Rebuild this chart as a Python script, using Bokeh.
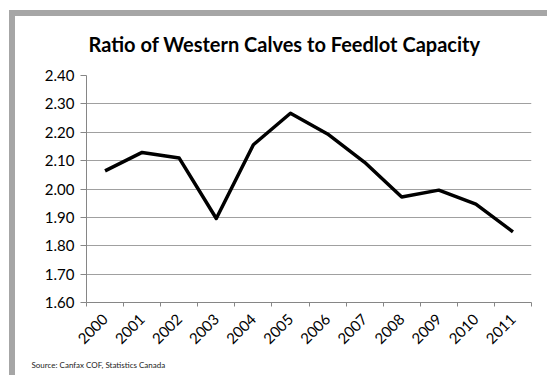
import math
from bokeh.plotting import figure
from bokeh.models import (ColumnDataSource, FixedTicker, Title, Range1d,
                          NumeralTickFormatter, InlineStyleSheet)
from bokeh.embed import file_html
from bokeh.resources import INLINE

years = ["2000", "2001", "2002", "2003", "2004", "2005",
         "2006", "2007", "2008", "2009", "2010", "2011"]
ratio = [2.064, 2.129, 2.109, 1.896, 2.156, 2.267,
         2.194, 2.094, 1.972, 1.996, 1.947, 1.849]
y_ticks = [1.60, 1.70, 1.80, 1.90, 2.00, 2.10, 2.20, 2.30, 2.40]
title_text = "Ratio of Western Calves to Feedlot Capacity"
source_text = "Source: Canfax COF, Statistics Canada"

FONT = "Lato"
W, H = 547, 375
FRAME_LEFT, FRAME_BOTTOM = 86, 302

xpos = [i + 0.5 for i in range(len(years))]
src = ColumnDataSource(dict(x=xpos, y=ratio))

p = figure(width=W, height=H, output_backend="svg", toolbar_location=None,
           x_range=Range1d(0, len(years)), y_range=Range1d(y_ticks[0], y_ticks[-1]),
           min_border_left=FRAME_LEFT, min_border_right=16, min_border_top=75,
           min_border_bottom=H - FRAME_BOTTOM)
p.outline_line_color = None
p.background_fill_color = "white"
p.border_fill_color = None
p.stylesheets = [InlineStyleSheet(css=""":host {
  background:
    linear-gradient(#a6a6a6, #a6a6a6) 9px 10px / 6px 400px no-repeat,
    linear-gradient(#a6a6a6, #a6a6a6) 9px 10px / 600px 6px no-repeat,
    white;
}""")]

p.line("x", "y", source=src, line_color="black", line_width=3.5,
       line_join="round")

# title
p.title.text = title_text
p.title.align = "left"
p.title.offset = 2
p.title.standoff = 40
p.title.text_font = FONT
p.title.text_font_style = "bold"
p.title.text_font_size = "20px"
p.title.text_color = "black"

# source note
p.add_layout(Title(text=source_text, align="left", offset=31 - FRAME_LEFT,
                   standoff=12, text_font=FONT, text_font_style="normal",
                   text_font_size="8px", text_color="#222222"), "below")

# y axis
p.yaxis.ticker = FixedTicker(ticks=y_ticks)
p.yaxis.formatter = NumeralTickFormatter(format="0.00")
p.yaxis.major_label_text_font = FONT
p.yaxis.major_label_text_font_size = "15px"
p.yaxis.major_label_text_color = "black"
p.yaxis.axis_line_color = "#868686"
p.yaxis.major_tick_line_color = "#868686"
p.yaxis.major_tick_out = 6
p.yaxis.major_tick_in = 0
p.yaxis.minor_tick_line_color = None
p.yaxis.major_label_standoff = 6

# x axis
p.xaxis.ticker = FixedTicker(ticks=xpos, minor_ticks=list(range(len(years) + 1)))
p.xaxis.major_label_overrides = {x: y for x, y in zip(xpos, years)}
p.xaxis.major_label_orientation = math.pi / 4
p.xaxis.major_label_text_font = FONT
p.xaxis.major_label_text_font_size = "15px"
p.xaxis.major_label_text_color = "black"
p.xaxis.axis_line_color = "#868686"
p.xaxis.major_tick_line_color = None
p.xaxis.minor_tick_line_color = "#868686"
p.xaxis.minor_tick_out = 4
p.xaxis.minor_tick_in = 0
p.xaxis.major_label_standoff = 8

p.xgrid.grid_line_color = None
p.ygrid.ticker = FixedTicker(ticks=y_ticks)
p.ygrid.grid_line_color = "#a0a0a0"
p.ygrid.grid_line_width = 1

open("out.html", "w").write(file_html(p, INLINE))
